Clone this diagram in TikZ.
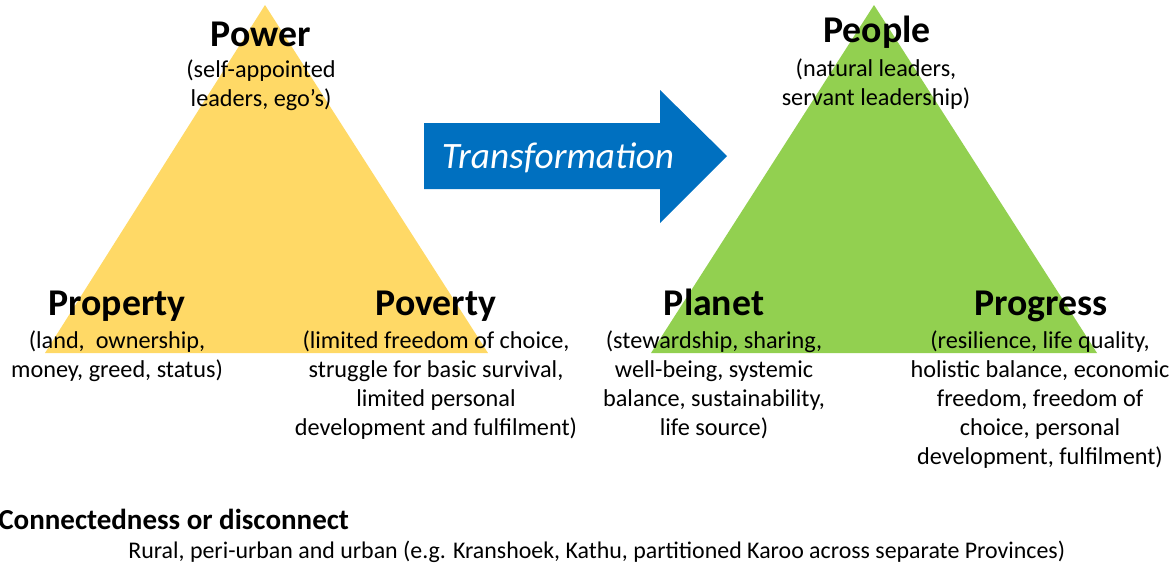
\documentclass[tikz,border=0pt]{standalone}
\usepackage{fontspec}
\setmainfont{Carlito}
\definecolor{gold}{HTML}{FFD966}
\definecolor{leaf}{HTML}{92D050}
\definecolor{arrowblue}{HTML}{0070C0}
\begin{document}
\begin{tikzpicture}[x=0.02cm,y=-0.02cm,
  head/.style={anchor=base,inner sep=0pt,font=\fontsize{21.5}{25}\selectfont\bfseries},
  desc/.style={anchor=base,inner sep=0pt,align=center,font=\fontsize{13.8}{16.5}\selectfont},
]
\useasboundingbox (0,0) rectangle (1172,566);
% triangles
\fill[gold] (265,5) -- (488,353) -- (45,353) -- cycle;
\fill[leaf] (874,5) -- (1097,353) -- (651,353) -- cycle;
% arrow
\fill[arrowblue] (424,123) -- (660,123) -- (660,90) -- (727,156) -- (660,223) -- (660,189) -- (424,189) -- cycle;
\node[anchor=base,inner sep=0pt,text=white,font=\fontsize{21.2}{25}\selectfont\itshape] (tr) at (558,168) {Transformation};
% left triangle labels (desc nodes anchored at baseline of their last line)
\node[head] (power) at (261,46) {Power};
\node[desc] (powerd) at (261,106) {(self-appointed\\leaders, ego’s)};
\node[head] (property) at (117,315) {Property};
\node[desc] (propertyd) at (117,377) {(land,\ \ ownership,\\money, greed, status)};
\node[head] (poverty) at (436,315) {Poverty};
\node[desc] (povertyd) at (436,435) {(limited freedom of choice,\\struggle for basic survival,\\limited personal\\development and fulfilment)};
% right triangle labels
\node[head] (people) at (877,42) {People};
\node[desc] (peopled) at (876,105) {(natural leaders,\\servant leadership)};
\node[head] (planet) at (714,315) {Planet};
\node[desc] (planetd) at (714,435) {(stewardship, sharing,\\well-being, systemic\\balance, sustainability,\\life source)};
\node[head] (progress) at (1041,315) {Progress};
\node[desc] (progressd) at (1040,464) {(resilience, life quality,\\holistic balance, economic\\freedom, freedom of\\choice, personal\\development, fulfilment)};
% bottom
\node[anchor=base west,inner sep=0pt,font=\fontsize{16.5}{19}\selectfont\bfseries] (conn) at (-2,529) {Connectedness or disconnect};
\node[anchor=base west,inner sep=0pt,font=\fontsize{13.6}{16.5}\selectfont] (rural) at (128,558) {Rural, peri-urban and urban (e.g. Kranshoek, Kathu, partitioned Karoo across separate Provinces)};
\end{tikzpicture}
\end{document}
